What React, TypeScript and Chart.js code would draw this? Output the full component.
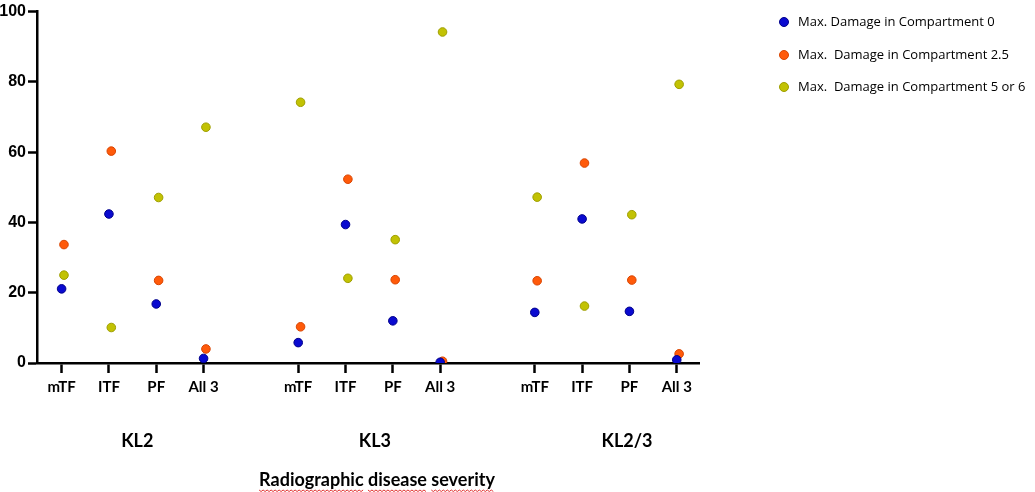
import React, { useEffect, useRef } from "react";
import { Chart, registerables } from "chart.js";

Chart.register(...registerables);

const categories = ["mTF", "ITF", "PF", "All 3"];
const groups = ["KL2", "KL3", "KL2/3"];
const seriesNames = [
  "Max. Damage in Compartment 0",
  "Max.  Damage in Compartment 2.5",
  "Max.  Damage in Compartment 5 or 6",
];
// values per group (KL2, KL3, KL2/3) × category (mTF, ITF, PF, All 3)
const damage0 = [21.1, 42.4, 16.8, 1.3, 5.8, 39.4, 12.0, 0.2, 14.4, 41.0, 14.7, 0.9];
const damage25 = [33.7, 60.3, 23.5, 4.0, 10.3, 52.3, 23.7, 0.5, 23.4, 56.9, 23.6, 2.6];
const damage56 = [25.0, 10.1, 47.1, 67.1, 74.2, 24.1, 35.1, 94.2, 47.2, 16.2, 42.2, 79.3];
const yTicks = [0, 20, 40, 60, 80, 100];
const axisTitle = "Radiographic disease severity";

const colors = ["#0a0ad0", "#ff5a0a", "#c2c204"];
const borders = ["#00008a", "#d84400", "#9e9e00"];
const seriesShift = [0, 0.05, 0.05];

const GROUP_GAP = 5;
const posOf = (i: number) => Math.floor(i / categories.length) * GROUP_GAP + (i % categories.length);
const tickPositions: number[] = [];
const tickLabels: Record<number, string> = {};
groups.forEach((_, g) =>
  categories.forEach((c, j) => {
    const p = g * GROUP_GAP + j;
    tickPositions.push(p);
    tickLabels[p] = c;
  })
);

const LABEL_FONT = "Lato, 'Open Sans', sans-serif";

const overlayPlugin = {
  id: "overlay",
  afterDraw(chart: any) {
    const ctx = chart.ctx;
    const xs = chart.scales.x;
    ctx.save();
    // group labels
    ctx.fillStyle = "#000";
    ctx.font = `bold 18px ${LABEL_FONT}`;
    ctx.textAlign = "center";
    ctx.textBaseline = "middle";
    const groupCenters = [1.6, 6.62, 11.95];
    groups.forEach((g, i) => {
      ctx.fillText(g, xs.getPixelForValue(groupCenters[i]), 441);
    });
    // axis title
    ctx.font = `bold 18px ${LABEL_FONT}`;
    const tx = 377;
    const ty = 480;
    ctx.fillText(axisTitle, tx, ty);
    // spell-check squiggles under words
    const total = ctx.measureText(axisTitle).width;
    let cur = tx - total / 2;
    const words = axisTitle.split(" ");
    ctx.strokeStyle = "#e03030";
    ctx.lineWidth = 1;
    words.forEach((w: string, k: number) => {
      const ww = ctx.measureText(w).width;
      ctx.beginPath();
      for (let x = cur, n = 0; x <= cur + ww; x += 2, n++) {
        const y = 490 + (n % 2 === 0 ? 0 : 1.5);
        if (n === 0) ctx.moveTo(x, y);
        else ctx.lineTo(x, y);
      }
      ctx.stroke();
      cur += ww + (k < words.length - 1 ? ctx.measureText(" ").width : 0);
    });
    // legend
    ctx.textAlign = "left";
    ctx.font = `13px 'Open Sans', sans-serif`;
    const rows = [22, 55, 87];
    chart.data.datasets.forEach((ds: any, i: number) => {
      ctx.beginPath();
      ctx.arc(784, rows[i], 4.5, 0, Math.PI * 2);
      ctx.fillStyle = ds.backgroundColor;
      ctx.fill();
      ctx.lineWidth = 1;
      ctx.strokeStyle = ds.borderColor;
      ctx.stroke();
      ctx.fillStyle = "#000";
      ctx.fillText(ds.label, 798, rows[i]);
    });
    ctx.restore();
  },
};

export default function App() {
  const ref = useRef<HTMLCanvasElement>(null);
  useEffect(() => {
    if (!ref.current) return;
    const values = [damage0, damage25, damage56];
    const chart = new Chart(ref.current, {
      type: "scatter",
      data: {
        datasets: values.map((arr, s) => ({
          label: seriesNames[s],
          data: arr.map((v, i) => ({ x: posOf(i) + seriesShift[s], y: v })),
          backgroundColor: colors[s],
          borderColor: borders[s],
          borderWidth: 1,
          pointRadius: 4.3,
        })),
      },
      options: {
        animation: false,
        responsive: false,
        layout: { padding: { top: 9, right: 336, left: 0, bottom: 0 } },
        plugins: { legend: { display: false }, tooltip: { enabled: false } },
        scales: {
          x: {
            type: "linear",
            min: -0.52,
            max: 13.47,
            afterBuildTicks: (s: any) => {
              s.ticks = tickPositions.map((v) => ({ value: v }));
            },
            afterFit: (s: any) => {
              s.height = 129;
            },
            grid: {
              drawOnChartArea: false,
              drawTicks: true,
              tickLength: 10,
              tickColor: "#000",
              tickWidth: 2.5,
            },
            border: { display: true, color: "#000", width: 2.5 },
            ticks: {
              autoSkip: false,
              maxRotation: 0,
              padding: 5,
              color: "#000",
              font: { family: LABEL_FONT, size: 15, weight: "bold" },
              callback: (v: any) => tickLabels[v] ?? "",
            },
          },
          y: {
            min: 0,
            max: 100,
            afterBuildTicks: (s: any) => {
              s.ticks = yTicks.map((v) => ({ value: v }));
            },
            afterFit: (s: any) => {
              s.width = 37;
            },
            grid: {
              drawOnChartArea: false,
              drawTicks: true,
              tickLength: 9,
              tickColor: "#000",
              tickWidth: 2.5,
            },
            border: { display: true, color: "#000", width: 2.5 },
            ticks: {
              padding: 2,
              color: "#000",
              font: { family: "'Liberation Sans', Arial, sans-serif", size: 16, weight: "bold" },
            },
          },
        },
      },
      plugins: [overlayPlugin],
    });
    return () => chart.destroy();
  }, []);
  return (
    <div style={{ position: "absolute", left: 0, top: 0, width: 1035, height: 492, background: "#fff" }}>
      <canvas ref={ref} width={1035} height={492} style={{ display: "block" }} />
    </div>
  );
}
